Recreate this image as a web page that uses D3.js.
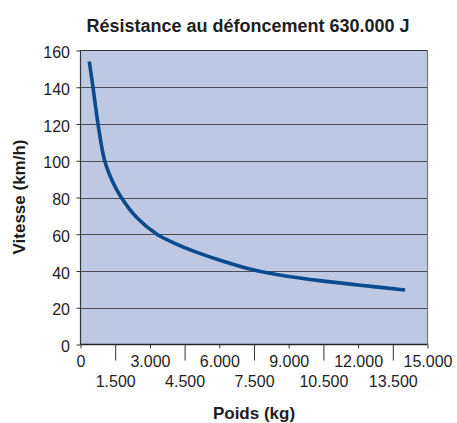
<!DOCTYPE html>
<html>
<head>
<meta charset="utf-8">
<script src="https://cdn.jsdelivr.net/npm/d3@7"></script>
<style>
  body { margin: 0; background: #fff; }
  svg { display: block; font-family: "Liberation Sans", Arial, Helvetica, sans-serif; }
  .axis path { display: none; }
  .axis line { stroke: #333; }
  .axis text { font-size: 16px; fill: #1e1e1e; }
</style>
</head>
<body>
<svg id="chart" width="457" height="423"></svg>
<script>
// poids (kg) / vitesse (km/h)
let poids   = [380, 540, 757, 1045, 1400, 1765, 2400, 3300, 4000, 5000, 6000, 7500, 9000, 10500, 12000, 14030],
    vitesse = [154, 140, 120, 100, 88.3, 80, 69.5, 60, 55.5, 50.3, 46, 40.5, 37, 34.5, 32.4, 29.7];

let ticksMajor = [0, 3000, 6000, 9000, 12000, 15000],
    ticksMinor = [1500, 4500, 7500, 10500, 13500],
    ticksY = [0, 20, 40, 60, 80, 100, 120, 140, 160];

let data = poids.map((p, i) => ({ poids: p, vitesse: vitesse[i] }));

let svg = d3.select('#chart');

let x = d3.scaleLinear().domain([0, 15000]).range([80.5, 427.5]),
    y = d3.scaleLinear().domain([0, 160]).range([344.5, 50.5]);

let fr = d3.formatLocale({ decimal: ',', thousands: '.', grouping: [3], currency: ['', ''] });
let fmt = fr.format(',');

// fond de la zone de tracé
svg.append('rect')
    .attr('x', x(0)).attr('y', y(160))
    .attr('width', x(15000) - x(0)).attr('height', y(0) - y(160))
    .attr('fill', '#bfc8e2');

// grille horizontale
svg.append('g')
    .selectAll('line')
    .data(ticksY.filter(d => d > 0 && d < 160))
    .enter().append('line')
    .attr('x1', x(0)).attr('x2', x(15000))
    .attr('y1', d => Math.round(y(d)) + 0.5).attr('y2', d => Math.round(y(d)) + 0.5)
    .attr('stroke', '#4d4d55')
    .attr('stroke-width', 1.2);

// cadre
svg.append('line')
    .attr('x1', x(0)).attr('x2', x(15000))
    .attr('y1', y(160)).attr('y2', y(160))
    .attr('stroke', '#333').attr('stroke-width', 1.2);
svg.append('line')
    .attr('x1', x(15000)).attr('x2', x(15000))
    .attr('y1', y(160)).attr('y2', y(0))
    .attr('stroke', '#777').attr('stroke-width', 1.2);
svg.append('line')
    .attr('x1', x(0)).attr('x2', x(0))
    .attr('y1', y(160)).attr('y2', y(0))
    .attr('stroke', '#333').attr('stroke-width', 1.2);
svg.append('line')
    .attr('x1', x(0)).attr('x2', x(15000))
    .attr('y1', y(0)).attr('y2', y(0))
    .attr('stroke', '#222').attr('stroke-width', 1.4);

// axes
svg.append('g')
    .attr('class', 'axis')
    .attr('transform', 'translate(0,' + y(0) + ')')
    .call(d3.axisBottom(x).tickValues(ticksMajor).tickFormat(fmt).tickSize(4).tickPadding(7.3));

svg.append('g')
    .attr('class', 'axis')
    .attr('transform', 'translate(0,' + y(0) + ')')
    .call(d3.axisBottom(x).tickValues(ticksMinor).tickFormat(fmt).tickSize(16).tickPadding(15.3));

svg.append('g')
    .attr('class', 'axis')
    .attr('transform', 'translate(' + x(0) + ',0)')
    .call(d3.axisLeft(y).tickValues(ticksY).tickSize(4).tickPadding(6.5))
    .selectAll('text').attr('dy', '0.45em');

// courbe
let line = d3.line()
    .x(d => x(d.poids))
    .y(d => y(d.vitesse))
    .curve(d3.curveCatmullRom.alpha(0.5));

svg.append('path')
    .datum(data)
    .attr('d', line)
    .attr('fill', 'none')
    .attr('stroke', '#0a4b8e')
    .attr('stroke-width', 3.6);

// titres
svg.append('text')
    .attr('x', 248).attr('y', 31.5)
    .attr('text-anchor', 'middle')
    .attr('font-size', 18).attr('font-weight', 'bold').attr('fill', '#1e1e1e')
    .text('Résistance au défoncement 630.000 J');

svg.append('text')
    .attr('x', 254).attr('y', 419)
    .attr('text-anchor', 'middle')
    .attr('font-size', 17).attr('font-weight', 'bold').attr('fill', '#1e1e1e')
    .text('Poids (kg)');

svg.append('text')
    .attr('transform', 'translate(25,197) rotate(-90)')
    .attr('text-anchor', 'middle')
    .attr('font-size', 17).attr('font-weight', 'bold').attr('fill', '#1e1e1e')
    .text('Vitesse (km/h)');
</script>
</body>
</html>
